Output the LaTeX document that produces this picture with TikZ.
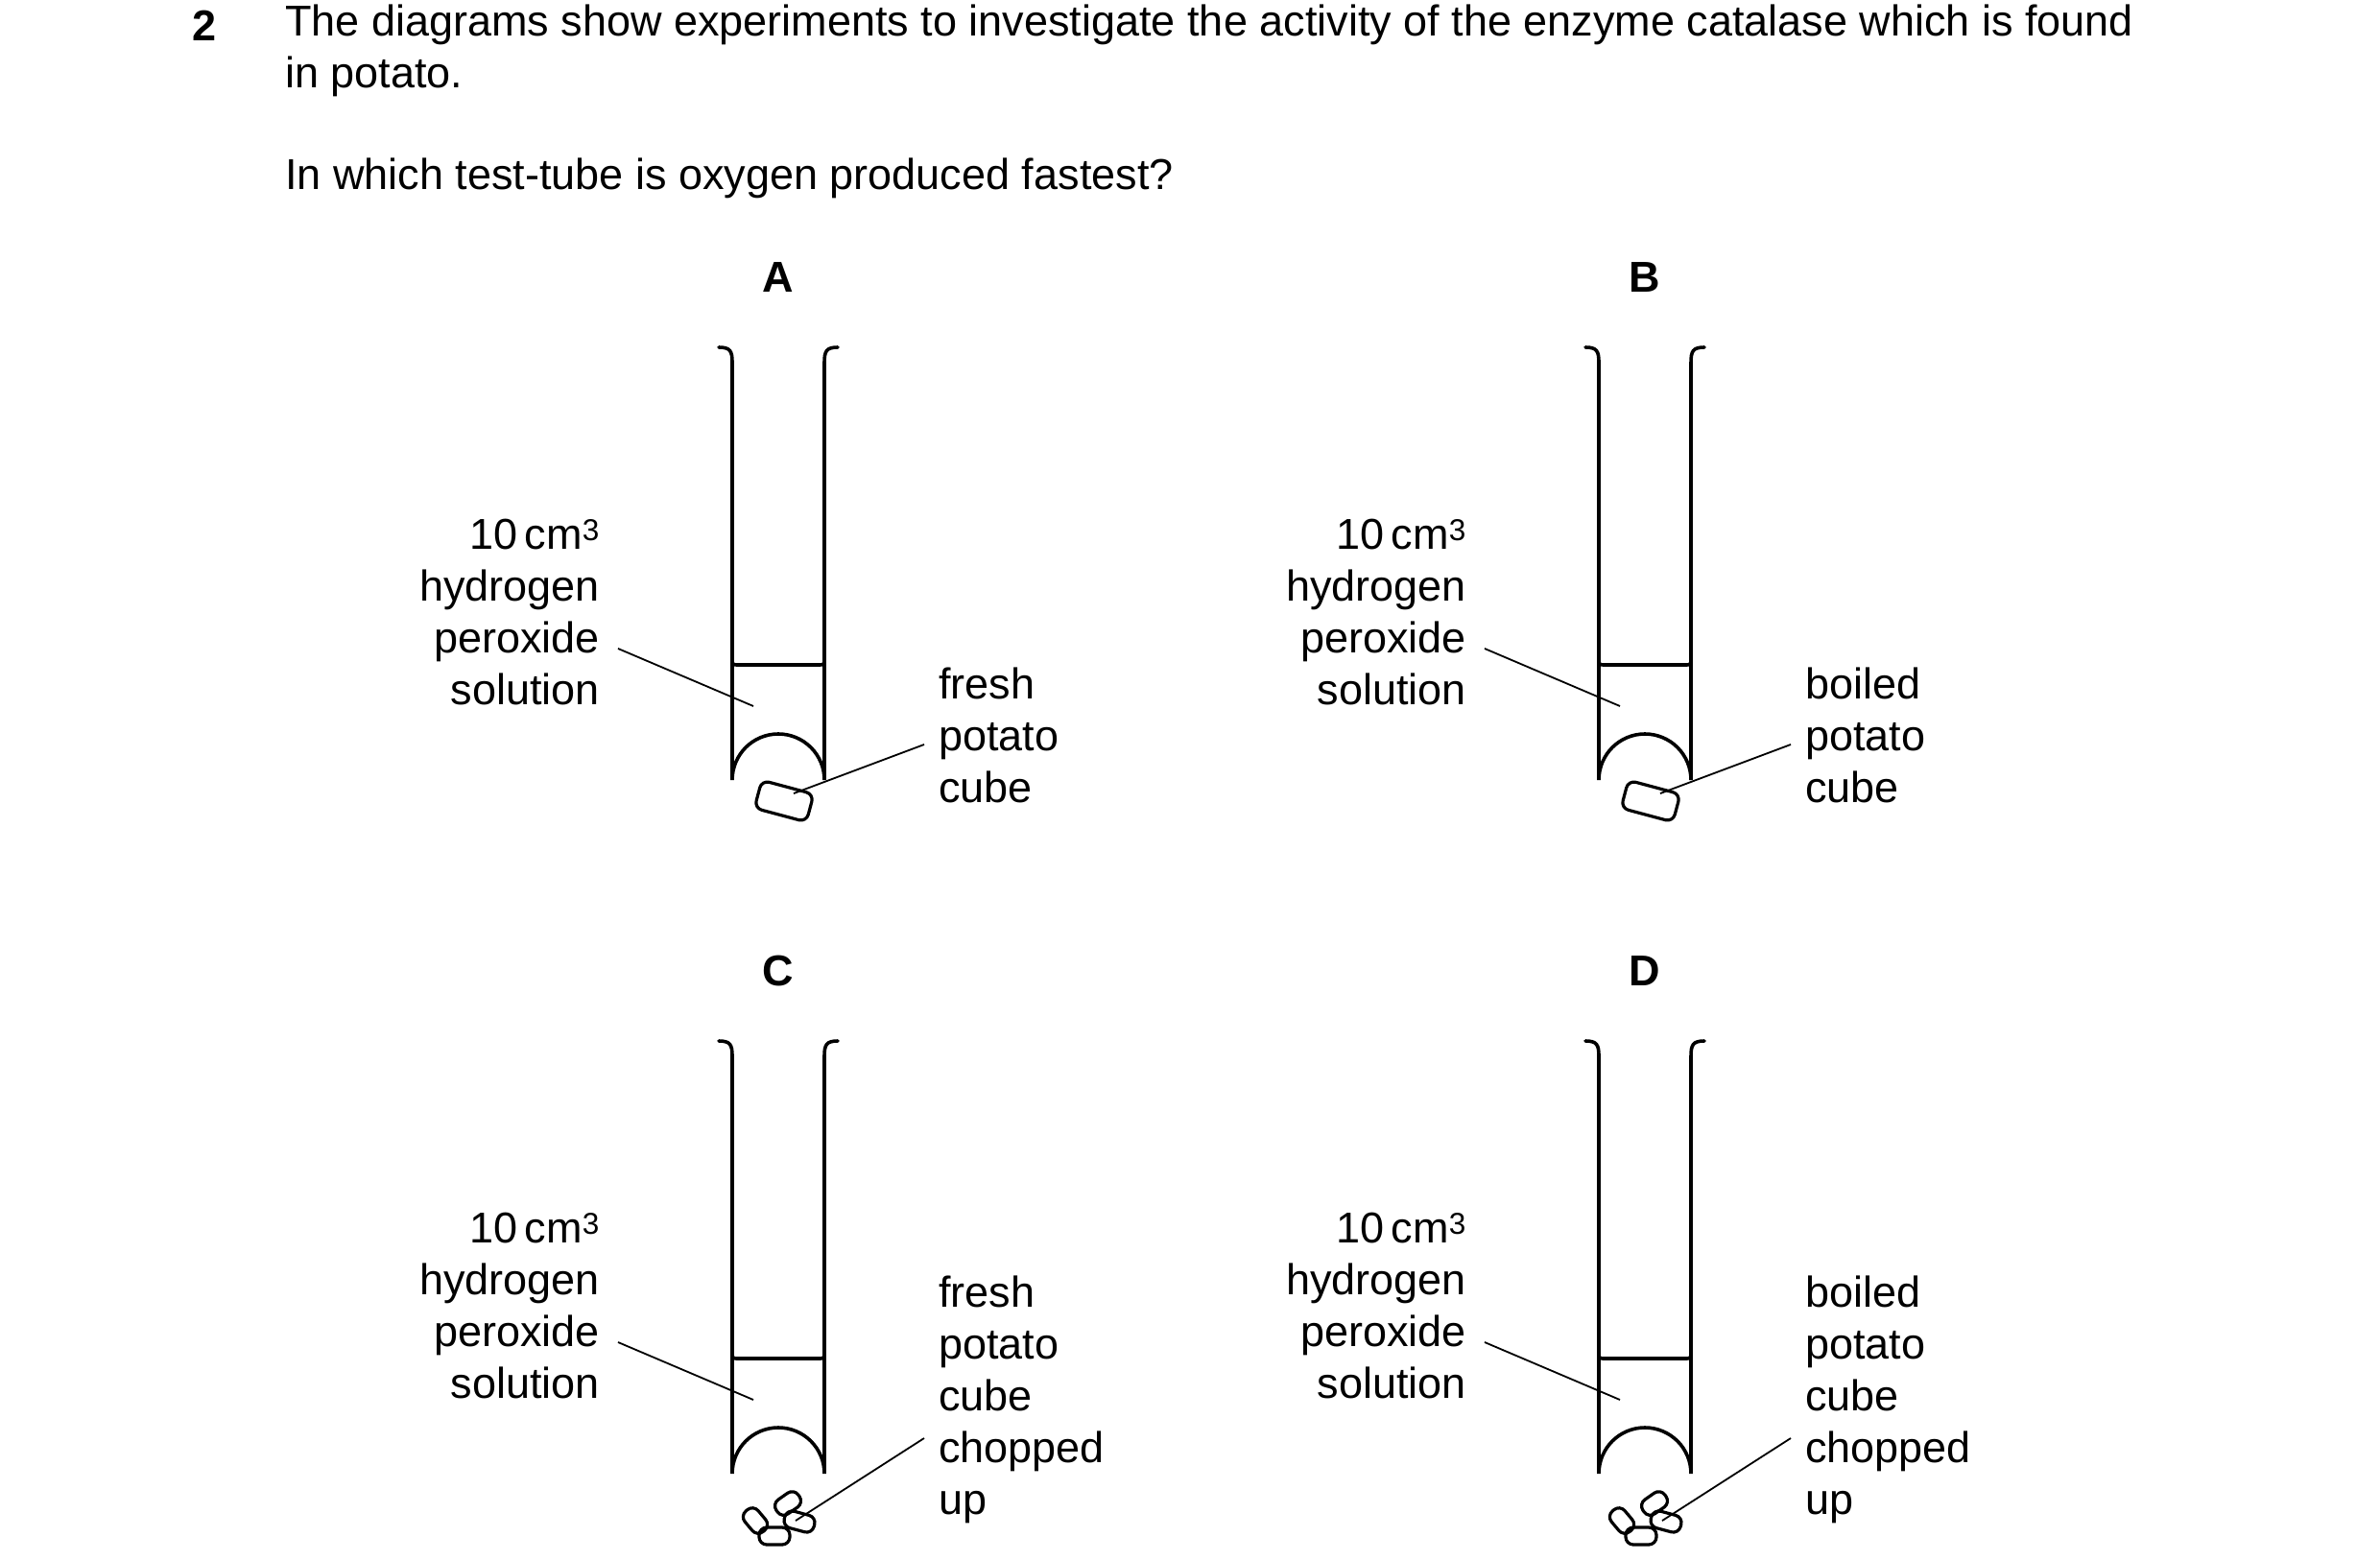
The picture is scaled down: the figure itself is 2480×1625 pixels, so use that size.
\documentclass[tikz,border=0pt]{standalone}
\usepackage{fontspec}
\setmainfont{Liberation Sans}
\begin{document}
\begin{tikzpicture}[x=1pt,y=-1pt,
  txt/.style={font=\fontsize{45}{54}\selectfont, inner sep=0pt},
  tube/.style={line width=3.6pt, line cap=round},
  lead/.style={line width=1.8pt},
  piece/.style={line width=3.2pt, rounded corners=8pt}]
\useasboundingbox (0,0) rectangle (2480,1625);
\node[txt, font=\fontsize{45}{54}\selectfont\bfseries, anchor=west] (num) at (200,27) {2};
\node[txt, anchor=north west, align=left] (q1) at (297,5) {The diagrams show experiments to investigate the activity of the enzyme catalase which is found\\in potato.};
\node[txt, anchor=west] (q2) at (297,186) {In which test-tube is oxygen produced fastest?};
\foreach \cx/\cy/\L/\st/\ch in {811/0/A/fresh/0, 1714/0/B/boiled/0, 811/723/C/fresh/1, 1714/723/D/boiled/1}{
  \begin{scope}[shift={(\cx,\cy)}]
    \node[txt, font=\fontsize{45}{54}\selectfont\bfseries] (lab\L) at (0,289) {\L};
    \draw[tube] (-62,362) .. controls (-50,362) and (-48,366) .. (-48,378) -- (-48,813) arc[start angle=180,end angle=360,radius=48] -- (48,378) .. controls (48,366) and (50,362) .. (62,362);
    \draw[tube] (-48,686) .. controls (-48,693) .. (-41,693) -- (41,693) .. controls (48,693) .. (48,686);
    \node[txt, anchor=east, align=right] (sol\L) at (-186,638) {10\,cm\textsuperscript{3}\\hydrogen\\peroxide\\solution};
    \coordinate (sp\L) at (-167,676);
    \coordinate (se\L) at (-26,736);
    \draw[lead] (sp\L) -- (se\L);
    \ifnum\ch=0
      \draw[piece, rotate around={-15:(6,835)}] (-22,820) rectangle (34,850);
      \node[txt, anchor=west, align=left] (pot\L) at (167,766) {\st\\potato\\cube};
      \coordinate (pp\L) at (152,776);
      \coordinate (pe\L) at (16,827);
    \else
      \draw[piece, rotate around={-50:(-24,1546-723+39)}] (-38,853) rectangle (-10,871);
      \draw[piece, rotate around={35:(10,844)}] (-4,835) rectangle (24,853);
      \draw[piece, rotate around={0:(-4,878)}] (-20,869) rectangle (12,887);
      \draw[piece, rotate around={-15:(22,863)}] (6,854) rectangle (38,872);
      \node[txt, anchor=west, align=left] (pot\L) at (167,736) {\st\\potato\\cube\\chopped\\up};
      \coordinate (pp\L) at (152,776);
      \coordinate (pe\L) at (18,862);
    \fi
    \draw[lead] (pp\L) -- (pe\L);
  \end{scope}}
\end{tikzpicture}
\end{document}
